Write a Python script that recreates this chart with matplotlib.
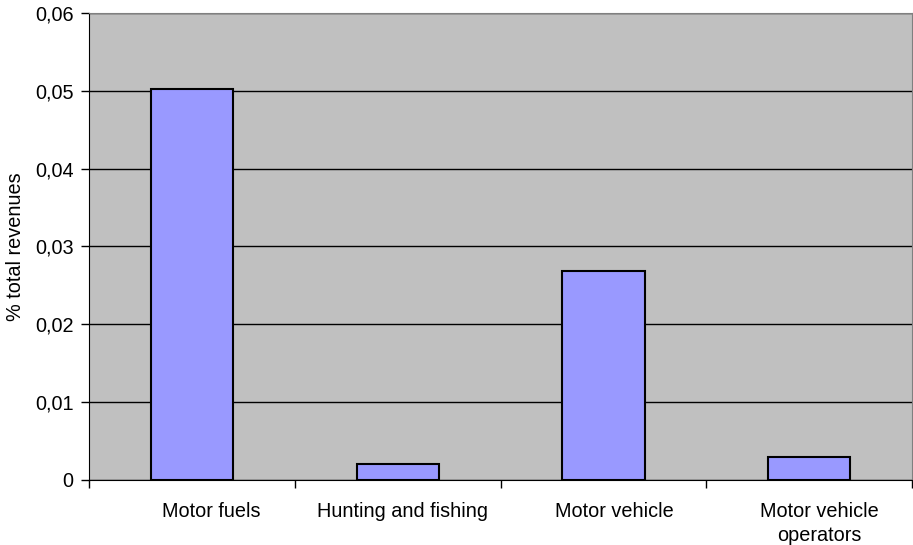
import numpy as np
import matplotlib.pyplot as plt
import matplotlib.transforms as mtransforms
from matplotlib.ticker import FuncFormatter

categories = ['Motor fuels', 'Hunting and fishing', 'Motor vehicle', 'Motor vehicle\noperators']
values = [0.0502, 0.0020, 0.0268, 0.0030]
label_shift_px = [19, 5, 11, 10]  # Excel places the labels slightly right of centre

plt.rcParams['font.family'] = ['Liberation Sans', 'DejaVu Sans']
fs = 14.3

fig = plt.figure(figsize=(9.13, 5.45), dpi=100)
ax = fig.add_axes([0.0975, 0.1193, 0.9015, 0.857])
ax.set_facecolor('#C0C0C0')

x = np.arange(len(categories))
ax.bar(x, values, width=0.4, color='#9999FF', edgecolor='black', linewidth=1.5, zorder=3)

ax.set_xlim(-0.5, len(categories) - 0.5)
ax.set_ylim(0, 0.06)
ax.set_yticks(np.arange(0, 0.061, 0.01))
ax.yaxis.set_major_formatter(FuncFormatter(lambda v, p: '0' if v == 0 else f'{v:.2f}'.replace('.', ',')))
ax.yaxis.grid(True, color='black', linewidth=1, zorder=1)

# boundary ticks, category labels between them
ax.set_xticks(np.arange(-0.5, len(categories), 1.0))
ax.set_xticklabels([])
ax.set_xticks(x, minor=True)
ax.set_xticklabels(categories, minor=True, fontsize=fs, linespacing=1.3, va='top')
ax.tick_params(axis='x', which='minor', length=0, pad=16)
ax.tick_params(axis='x', which='major', length=6, width=1, direction='out')
ax.tick_params(axis='y', length=6, width=1, direction='out', labelsize=fs, pad=5)
for lab, dx in zip(ax.get_xticklabels(minor=True), label_shift_px):
    lab.set_transform(lab.get_transform() + mtransforms.Affine2D().translate(dx, 0))

ax.set_ylabel('% total revenues', fontsize=fs, labelpad=7)

for s in ['top', 'right']:
    ax.spines[s].set_color('#808080')
for s in ['left', 'bottom']:
    ax.spines[s].set_color('black')

fig.savefig('out.png', dpi=100)
